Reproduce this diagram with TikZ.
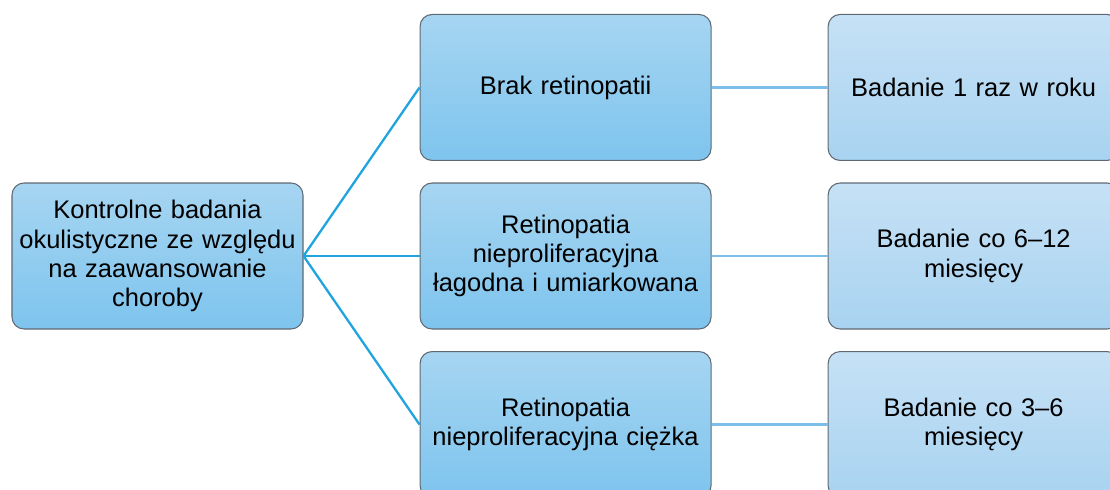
\documentclass[tikz,border=0pt]{standalone}
\usepackage{fontspec}
\setmainfont{Liberation Sans}
\usetikzlibrary{positioning}
\definecolor{boxline}{RGB}{95,105,115}
\definecolor{midtop}{RGB}{166,213,241}
\definecolor{midbot}{RGB}{126,196,238}
\definecolor{endtop}{RGB}{198,225,245}
\definecolor{endbot}{RGB}{168,211,241}
\definecolor{linkblue}{RGB}{32,164,222}
\definecolor{linklight}{RGB}{124,190,233}
\tikzset{box/.style={rectangle,rounded corners=2.4mm,draw=boxline,line width=0.6pt,
	 minimum width=5.82cm,minimum height=2.92cm,text width=5.7cm,align=center,
	 inner sep=0pt,font=\fontsize{14.5}{16.6}\selectfont},
	 mbox/.style={box,top color=midtop,bottom color=midbot},
	 ebox/.style={box,top color=endtop,bottom color=endbot},
	 link/.style={draw=linkblue,line width=1.3pt},
	 sublink/.style={draw=linklight,line width=1.3pt},
	 node distance = 0.43cm and 2.32cm
	 }
\begin{document}
\begin{tikzpicture}% kontrole okulistyczne
        \clip (0,0) rectangle (22.2,-9.78);
        \node[mbox] (k) at (3.15,-5.12) {Kontrolne badania\\ okulistyczne ze względu\\ na zaawansowanie\\ choroby};
        \node[mbox] (r2) [right=of k] {Retinopatia\\ nieproliferacyjna\\ łagodna i umiarkowana};
        \node[mbox] (r1) [above=of r2] {Brak retinopatii};
        \node[mbox] (r3) [below=of r2] {Retinopatia\\ nieproliferacyjna ciężka};
        \node[ebox] (b1) [right=of r1] {Badanie 1 raz w roku};
        \node[ebox] (b2) [right=of r2] {Badanie co 6–12\\ miesięcy};
        \node[ebox] (b3) [right=of r3] {Badanie co 3–6\\ miesięcy};
        \draw[link] (k.east) to (r1.west);
        \draw[link] (k.east) to (r2.west);
        \draw[link] (k.east) to (r3.west);
        \draw[sublink] (r1) to (b1);
        \draw[sublink] (r2) to (b2);
        \draw[sublink] (r3) to (b3);
\end{tikzpicture}
\end{document}
